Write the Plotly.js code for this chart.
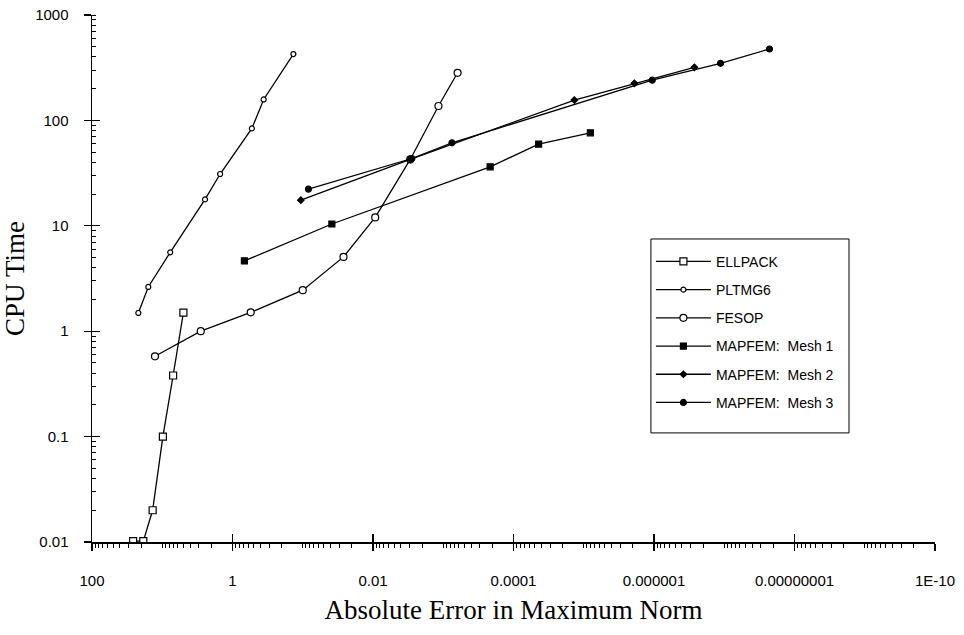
<!DOCTYPE html>
<html>
<head>
<meta charset="utf-8">
<script src="https://cdn.plot.ly/plotly-3.0.1.min.js"></script>
<style>html,body{margin:0;padding:0;background:#fff;}#chart{width:964px;height:635px;}</style>
</head>
<body>
<div id="chart"></div>
<script>
// ---- data ----
const ellpackX = [26, 18.6, 13.7, 9.8, 7.0, 5.0];
const ellpackY = [0.0102, 0.0102, 0.02, 0.1, 0.38, 1.5];

const pltmgX = [21.9, 15.8, 7.7, 2.46, 1.5, 0.53, 0.36, 0.136];
const pltmgY = [1.49, 2.63, 5.6, 17.8, 31, 84, 158, 426];

const fesopX = [12.7, 2.83, 0.55, 0.1, 0.0263, 0.0093, 0.00295, 0.00117, 0.000625];
const fesopY = [0.578, 1.0, 1.51, 2.45, 5.07, 12.0, 42.6, 137, 283];

const mesh1X = [0.677, 0.0385, 0.000215, 4.39e-5, 8.05e-6];
const mesh1Y = [4.64, 10.4, 36.3, 59.6, 76.3];

const mesh2X = [0.1065, 0.00295, 1.36e-5, 1.9e-6, 2.66e-7];
const mesh2Y = [17.5, 42.6, 156, 225, 319];

const mesh3X = [0.083, 0.0028, 0.000752, 1.06e-6, 1.13e-7, 2.27e-8];
const mesh3Y = [22.3, 43.5, 61.3, 241, 348, 476];

const seriesNames = ['ELLPACK', 'PLTMG6', 'FESOP', 'MAPFEM:  Mesh 1', 'MAPFEM:  Mesh 2', 'MAPFEM:  Mesh 3'];

const xTickVals = [100, 1, 0.01, 0.0001, 0.000001, 0.00000001, 1e-10];
const xTickText = ['100', '1', '0.01', '0.0001', '0.000001', '0.00000001', '1E-10'];
const yTickVals = [0.01, 0.1, 1, 10, 100, 1000];
const yTickText = ['0.01', '0.1', '1', '10', '100', '1000'];

// ---- styling ----
const lineStyle = {color: '#000', width: 1.3};
function tr(x, y, name, sym, fill, size, idx) {
  return {
    x: x, y: y, name: name, type: 'scatter', mode: 'lines+markers',
    line: lineStyle, legendgroup: 'g' + idx,
    marker: {symbol: sym, size: size, color: fill, line: {color: '#000', width: 1.2}}
  };
}
const data = [
  tr(ellpackX, ellpackY, seriesNames[0], 'square', '#fff', 7, 0),
  tr(pltmgX, pltmgY, seriesNames[1], 'circle', '#fff', 5, 1),
  tr(fesopX, fesopY, seriesNames[2], 'circle', '#fff', 7, 2),
  tr(mesh1X, mesh1Y, seriesNames[3], 'square', '#000', 6, 3),
  tr(mesh2X, mesh2Y, seriesNames[4], 'diamond', '#000', 5, 4),
  tr(mesh3X, mesh3Y, seriesNames[5], 'circle', '#000', 6, 5),
  {x: [], y: [], xaxis: 'x2', yaxis: 'y2', type: 'scatter', showlegend: false, hoverinfo: 'skip'}
];

const tickFont = {family: 'Liberation Sans, Arial, sans-serif', size: 15, color: '#000'};
const titleFont = {family: 'Liberation Serif, Times New Roman, serif', size: 27, color: '#000'};

const layout = {
  width: 964, height: 635,
  margin: {l: 92, r: 29, t: 15, b: 93},
  paper_bgcolor: '#fff', plot_bgcolor: '#fff',
  showlegend: true,
  xaxis: {
    type: 'log', range: [2, -10], autorange: false,
    showgrid: false, zeroline: false,
    showline: true, linecolor: '#000', linewidth: 1.5,
    tickmode: 'array', tickvals: xTickVals, ticktext: xTickText,
    ticks: 'outside', ticklen: 7, tickwidth: 1.3, tickcolor: '#000',
    ticklabelstandoff: 17,
    minor: {dtick: 'D1', ticks: 'outside', ticklen: 4, tickwidth: 1, tickcolor: '#000', showgrid: false},
    tickfont: tickFont,
    title: {text: 'Absolute Error in Maximum Norm', font: titleFont, standoff: 12}
  },
  yaxis: {
    type: 'log', range: [-2, 3], autorange: false,
    showgrid: false, zeroline: false,
    showline: true, linecolor: '#000', linewidth: 1.5,
    tickmode: 'array', tickvals: yTickVals, ticktext: yTickText,
    ticks: 'outside', ticklen: 7, tickwidth: 1.3, tickcolor: '#000',
    ticklabelstandoff: 12,
    minor: {dtick: 'D1', ticks: 'inside', ticklen: 4, tickwidth: 1, tickcolor: '#000', showgrid: false},
    tickfont: tickFont,
    title: {text: 'CPU Time', font: titleFont, standoff: 6}
  },
  xaxis2: {
    type: 'log', range: [2, -10], autorange: false, overlaying: 'x', anchor: 'y2',
    showgrid: false, zeroline: false, showline: false, showticklabels: false,
    tickmode: 'array', tickvals: xTickVals,
    ticks: 'inside', ticklen: 8, tickwidth: 1.3, tickcolor: '#000'
  },
  yaxis2: {
    type: 'log', range: [-2, 3], autorange: false, overlaying: 'y', anchor: 'x2',
    showgrid: false, zeroline: false, showline: false, showticklabels: false,
    tickmode: 'array', tickvals: yTickVals,
    ticks: 'inside', ticklen: 8, tickwidth: 1.3, tickcolor: '#000'
  },
  // legend frame drawn as a rectangle so its padding matches the reference
  shapes: [{
    type: 'rect', xref: 'paper', yref: 'paper',
    x0: 0.663, x1: 0.898, y0: 0.207, y1: 0.575,
    line: {color: '#000', width: 1}, fillcolor: '#fff', layer: 'below'
  }],
  legend: {
    x: 0.663, y: 0.562, xanchor: 'left', yanchor: 'top',
    bgcolor: 'rgba(0,0,0,0)', borderwidth: 0,
    font: {family: 'Liberation Sans, Arial, sans-serif', size: 14, color: '#000'},
    itemwidth: 55, tracegroupgap: 7, traceorder: 'grouped'
  }
};

Plotly.newPlot('chart', data, layout, {staticPlot: true, displayModeBar: false});
</script>
</body>
</html>
